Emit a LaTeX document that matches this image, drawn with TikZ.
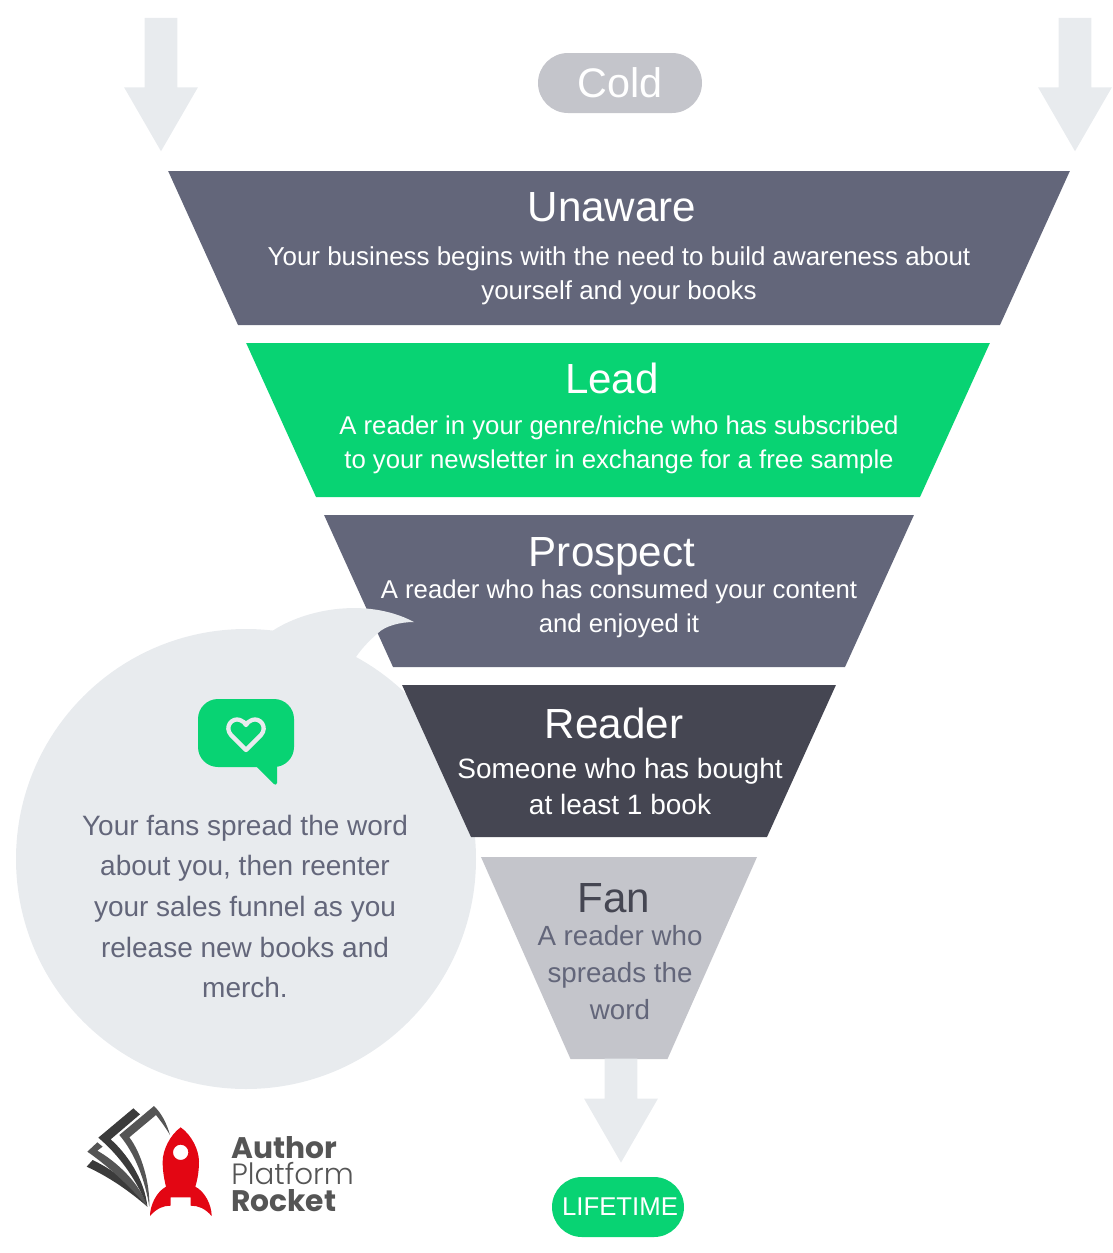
\documentclass[tikz,border=0pt]{standalone}
\usepackage{fontspec}
\setmainfont{Liberation Sans}
\newfontfamily\logofont{Poppins}
\newfontfamily\logolight{Poppins Light}
\usetikzlibrary{shapes.geometric, shapes.arrows, shapes.misc, positioning}
\definecolor{slategrey}{HTML}{63667A}
\definecolor{inkgrey}{HTML}{454652}
\definecolor{ashgrey}{HTML}{C4C5CB}
\definecolor{mistgrey}{HTML}{E8EBEE}
\definecolor{leadgreen}{HTML}{08D373}
\definecolor{logogrey}{HTML}{555555}
\definecolor{rocketred}{HTML}{E30613}
\tikzstyle{band} = [trapezium, rotate=180, trapezium left angle=65.6, trapezium right angle=65.6, inner sep=0pt, outer sep=0pt, text height=115.5pt, fill=slategrey]
\tikzstyle{heading} = [inner sep=0pt, text=white, font=\fontsize{31.6}{31.6}\selectfont]
\tikzstyle{body} = [inner sep=0pt, text=white, align=center, font=\fontsize{19.3}{25.5}\selectfont]
\tikzstyle{drop} = [single arrow, rotate=-90, single arrow head extend=15.5pt, single arrow tip angle=60, inner xsep=0pt, inner ysep=12pt, outer sep=0pt, fill=mistgrey]
\tikzstyle{pill} = [rounded rectangle, inner sep=0pt, minimum height=45pt]
\begin{document}
\begin{tikzpicture}[x=.75pt, y=-.75pt]
\useasboundingbox (0,0) rectangle (1113,1253);

% Temperature tags
\node (cold) [pill, fill=ashgrey, minimum width=123pt, text=white, font=\fontsize{31}{31}\selectfont] at (620,83) {Cold};
\node (dropleft) [drop, minimum height=100pt] at (161,70.5) {};
\node (dropright) [drop, minimum height=100pt] at (1075,70.5) {};

% Funnel
\node (unaware) [band, text width=571.5pt] at (619,248) {};
\node (unawarehead) [heading] at (612,207) {Unaware};
\node (unawaretext) [body, font=\fontsize{19.45}{25.5}\selectfont] at (619,276) {Your business begins with the need to build awareness about\\yourself and your books};

\node (lead) [band, fill=leadgreen, text width=453pt] at (618,420) {};
\node (leadhead) [heading] at (612,378.5) {Lead};
\node (leadtext) [body] at (619,444.5) {A reader in your genre/niche who has subscribed\\to your newsletter in exchange for a free sample};

\node (prospect) [band, text width=339pt, text height=114pt] at (619,591) {};
\node (prospecthead) [heading] at (612,556) {Prospect};
\node (prospecttext) [body] at (619,608.5) {A reader who has consumed your content\\and enjoyed it};

% Speech bubble
\node (bubble) [circle, fill=mistgrey, inner sep=0pt, outer sep=0pt, minimum size=345pt] at (246,859) {};
\fill [mistgrey] (268,634) .. controls (300,610) and (365,596) .. (414,622) .. controls (400,622) and (385,626) .. (378,633) .. controls (370,640) and (362,648) .. (356,657) -- (330,680) -- cycle;

\node (reader) [band, fill=inkgrey, text width=222pt, text height=114pt] at (619,761) {};
\node (readerhead) [heading] at (614,723.5) {Reader};
\node (readertext) [body, font=\fontsize{21}{27}\selectfont] at (620,786.5) {Someone who has bought\\at least 1 book};

\node (fan) [band, fill=ashgrey, trapezium left angle=66.1, trapezium right angle=66.1, text width=72.75pt, text height=151.5pt] at (619,958) {};
\node (fanhead) [heading, text=inkgrey] at (614,898) {Fan};
\node (fantext) [body, text=slategrey, font=\fontsize{20.8}{28}\selectfont] at (620,972.5) {A reader who\\spreads the\\word};

% Bubble text and icon
\fill [leadgreen, rounded corners=15pt] (198,699) rectangle (294,767);
\fill [leadgreen] (256,766) -- (274,784) .. controls (275,785) and (277,785) .. (277,783) -- (277,766) -- cycle;
\draw [mistgrey, line width=3.2pt, line join=round] (246,750) -- (231,735) .. controls (224,727) and (232,717) .. (240,720) .. controls (243,721) and (245,723) .. (246,725) .. controls (247,723) and (249,721) .. (252,720) .. controls (260,717) and (268,727) .. (261,735) -- cycle;
\node (bubbletext) [inner sep=0pt, align=center, text=slategrey, font=\fontsize{21}{30.4}\selectfont] at (245,906.5) {Your fans spread the word\\about you, then reenter\\your sales funnel as you\\release new books and\\merch.};

% Lifetime
\node (dropfan) [drop, minimum height=78pt] at (621,1096.5) {};
\node (lifetime) [pill, fill=leadgreen, minimum width=99pt, text=white, font=\fontsize{19.3}{19.3}\selectfont] at (618,1207) {\hspace*{3pt}LIFETIME};

% Logo
\begin{scope}[shift={(70,1090)}, x=.25pt, y=-.25pt]
\fill [logogrey!70!black] (50,230) -- (68,210) .. controls (130,240) and (200,290) .. (232,350) .. controls (180,305) and (120,262) .. (50,230) -- cycle;
\fill [logogrey] (52,185) -- (82,157) -- (98,170) -- (82,182) .. controls (140,215) and (210,280) .. (232,350) .. controls (185,295) and (120,232) .. (52,185) -- cycle;
\fill [logogrey!70!black] (85,143) -- (190,55) -- (210,73) -- (122,148) .. controls (170,190) and (225,270) .. (232,350) .. controls (200,270) and (150,198) .. (85,143) -- cycle;
\fill [logogrey] (148,135) -- (252,48) .. controls (275,70) and (290,100) .. (300,135) .. controls (285,110) and (270,90) .. (258,75) -- (178,142) .. controls (215,190) and (240,280) .. (238,350) .. controls (225,270) and (195,190) .. (148,135) -- cycle;
\fill [rocketred, even odd rule] (332,112) .. controls (300,135) and (278,180) .. (278,215) .. controls (278,245) and (283,270) .. (288,290) .. controls (260,305) and (240,345) .. (240,378) .. controls (260,355) and (280,347) .. (302,347) -- (302,322) -- (362,322) -- (362,347) .. controls (385,347) and (405,355) .. (425,378) .. controls (425,345) and (405,305) .. (376,290) .. controls (382,270) and (387,245) .. (387,215) .. controls (387,180) and (365,135) .. (332,112) -- cycle (332,187) circle (23);
\end{scope}
\node (logoauthor) [inner sep=0pt, anchor=base west, text=logogrey, font=\logofont\bfseries\fontsize{22.3}{22.3}\selectfont] at (231,1158) {Author};
\node (logoplatform) [inner sep=0pt, anchor=base west, text=logogrey, font=\logolight\fontsize{22}{22}\selectfont] at (231,1184) {Platform};
\node (logorocket) [inner sep=0pt, anchor=base west, text=logogrey, font=\logofont\bfseries\fontsize{22.3}{22.3}\selectfont] at (231,1211) {Rocket};

\end{tikzpicture}
\end{document}
